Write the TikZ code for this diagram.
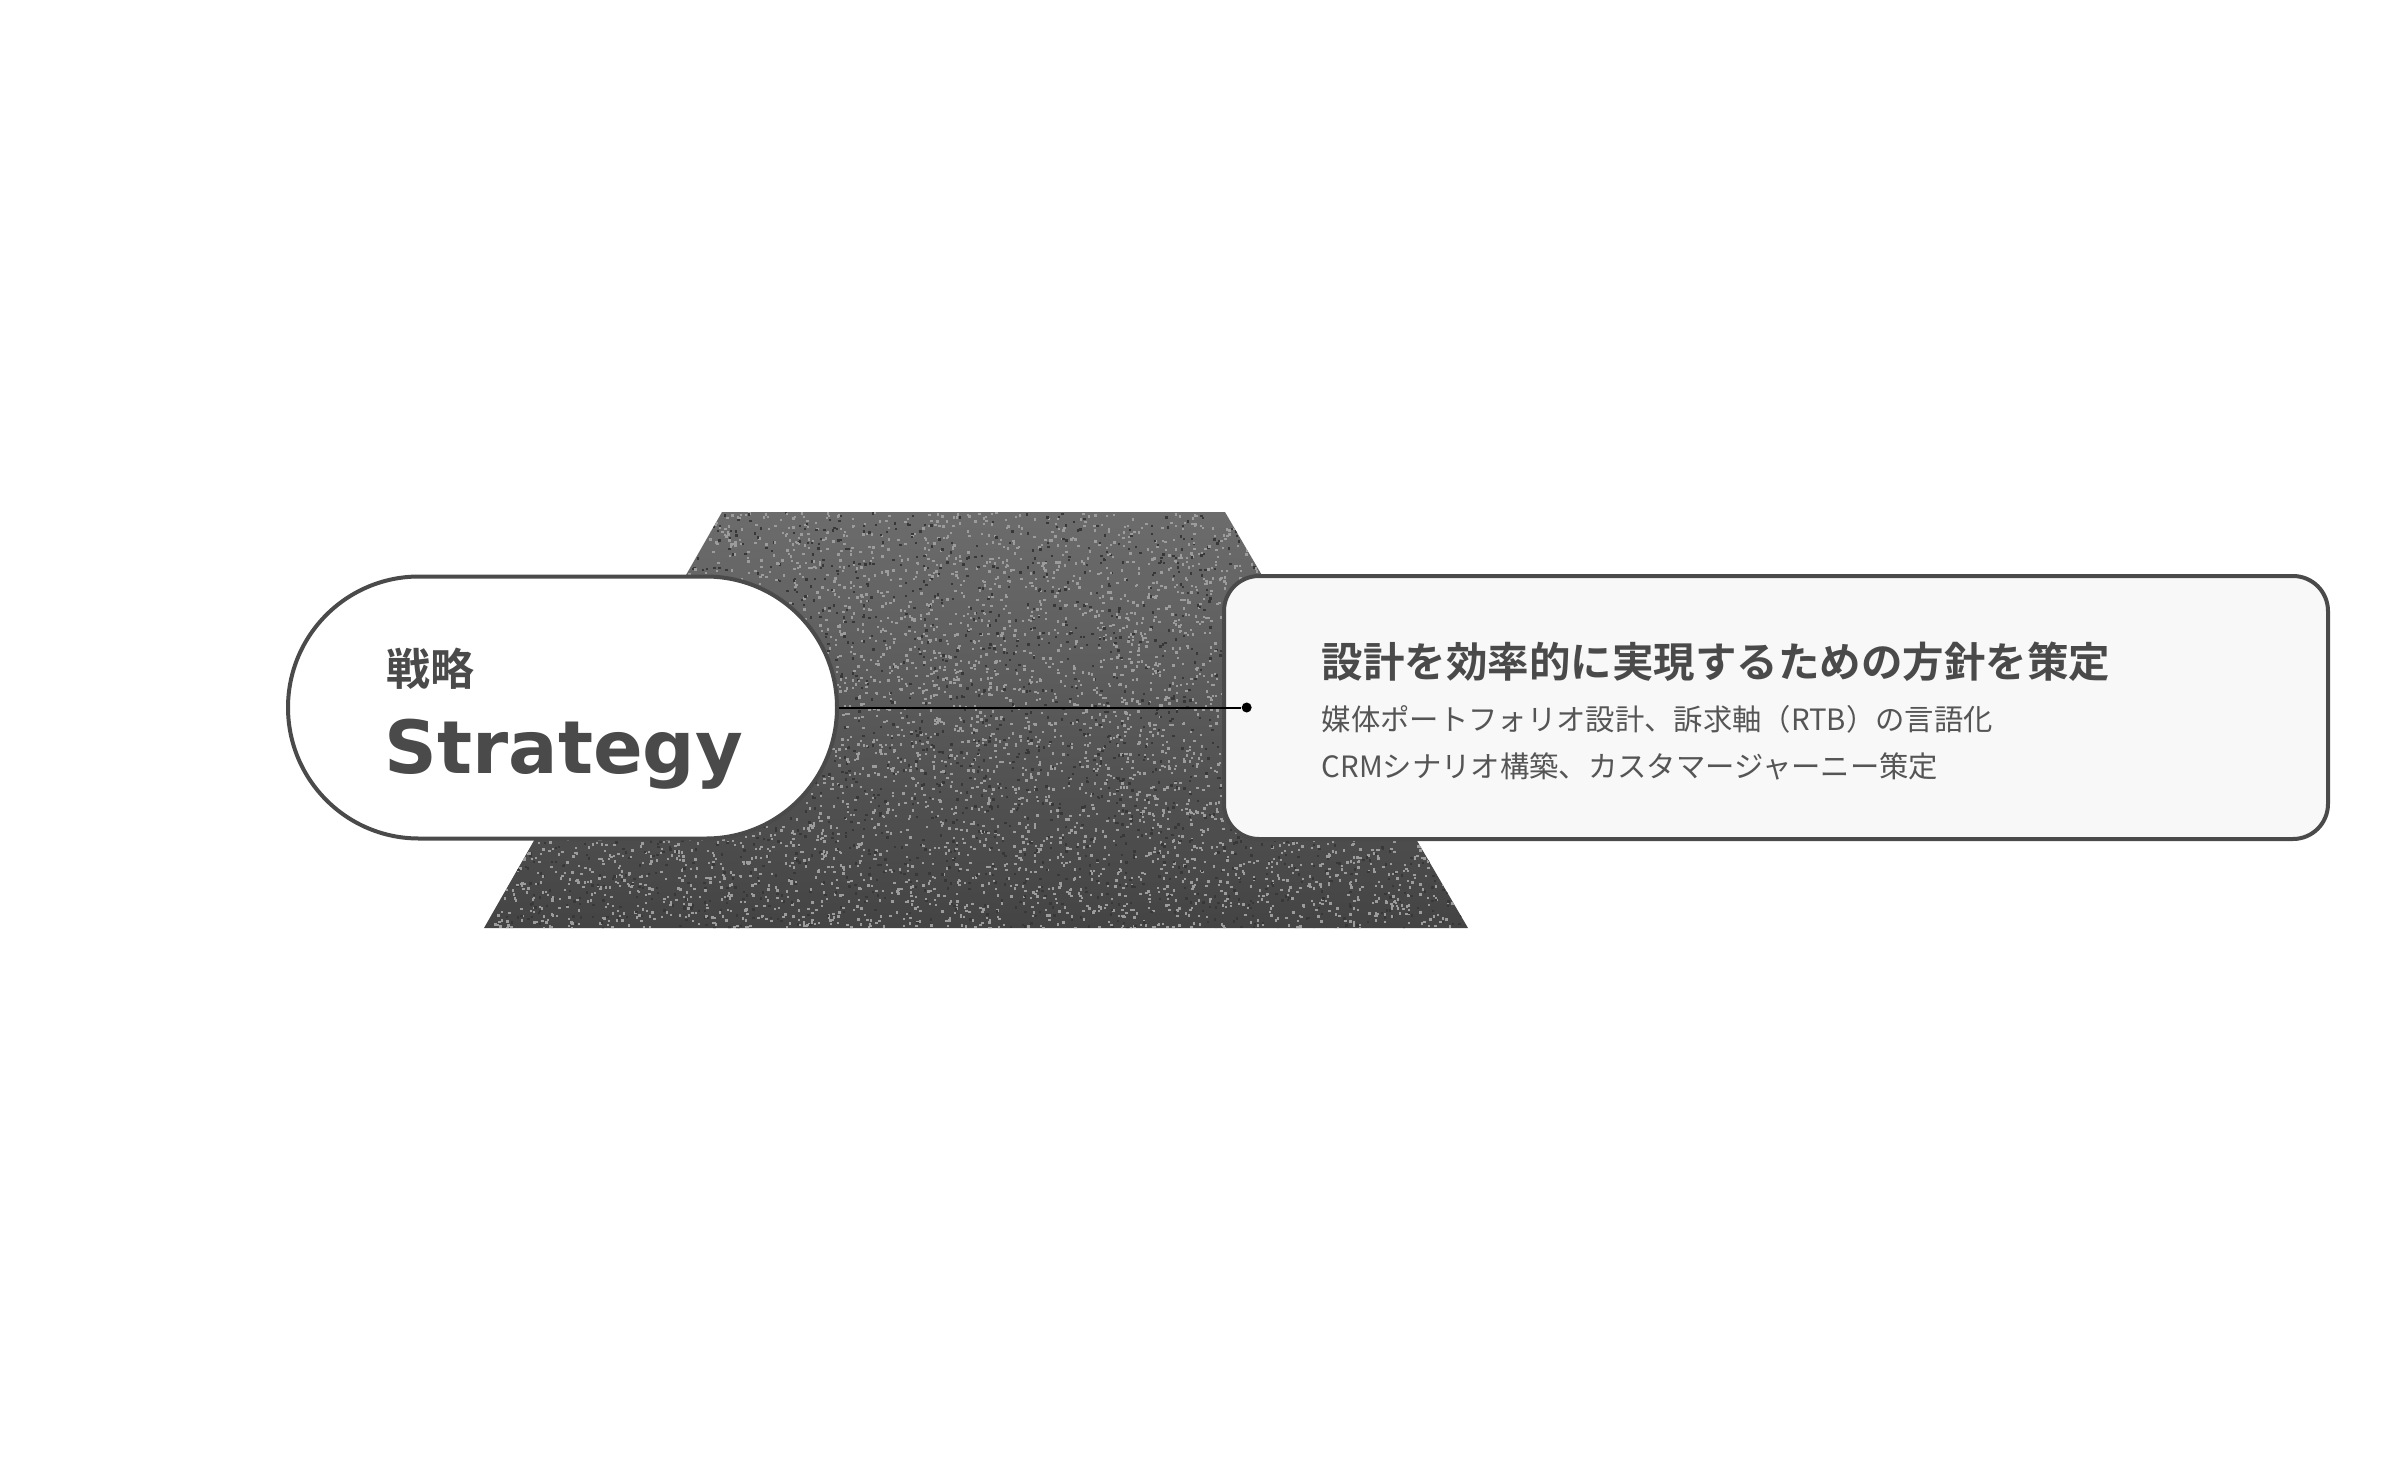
\documentclass[tikz,border=0pt]{standalone}
\usepackage{fontspec}
\setmainfont{Noto Sans CJK JP}[BoldFont={Noto Sans CJK JP Bold}]
\newfontfamily\enbold{DejaVu Sans Bold}
\usetikzlibrary{positioning}

\definecolor{ink}{HTML}{4A4A4A}
\definecolor{softink}{HTML}{555555}
\definecolor{boxfill}{HTML}{F8F8F8}
\definecolor{rocktop}{HTML}{6C6C6C}
\definecolor{rockbot}{HTML}{444444}
\definecolor{speckle}{HTML}{9C9C9C}
\definecolor{grit}{HTML}{383838}

\begin{document}
\begin{tikzpicture}[x=0.3pt,y=-0.3pt]
				\tikzstyle{pill}=[draw=ink, line width=1.2pt, fill=white, rounded corners=39.3pt, minimum width=164.7pt, minimum height=78.6pt]
				\tikzstyle{descbox}=[draw=ink, line width=1.2pt, fill=boxfill, rounded corners=10.5pt, minimum width=331.2pt, minimum height=78.9pt]
				\tikzstyle{pin}=[circle, fill=black, inner sep=0pt, minimum size=3pt]
				\tikzstyle{lbl}=[anchor=west, inner sep=0pt, text=ink]

				\useasboundingbox (0,0) rectangle (2400,1468);

				% background trapezoid with grain
				\shade[top color=rocktop, bottom color=rockbot] (722,512) -- (1225,512) -- (1468,928) -- (484,928) -- cycle;
				\pgfmathsetseed{42}
				\foreach \k in {1,...,5}{
				\begin{scope}
				\clip (722,512) -- (1225,512) -- (1468,928) -- (484,928) -- cycle;
				\foreach \i in {1,...,1200}
				\fill[speckle] (484+rnd*984, 512+rnd*416) rectangle ++(2.4,2.4);
				\foreach \i in {1,...,500}
				\fill[grit] (484+rnd*984, 512+rnd*416) rectangle ++(2.4,2.4);
				\end{scope}
				}

				\node[pill] (strategy) at (562.5,707.5) {};
				\node[descbox] (desc) [right=114.9pt of strategy] {};
				\node[pin] (dot) [right=5.7pt of desc.west] {};

				\node[lbl, font=\bfseries\fontsize{13.2pt}{15pt}\selectfont] (jp) at (386,669) {戦略};
				\node[lbl, anchor=base west, font=\enbold\fontsize{22pt}{24pt}\selectfont] (en) at (384,773) {Strategy};

				\node[lbl, font=\bfseries\fontsize{12.45pt}{14pt}\selectfont] (title) at (1321,662) {設計を効率的に実現するための方針を策定};
				\node[lbl, text=softink, font=\fontsize{8.8pt}{10pt}\selectfont] (line1) at (1321,719) {媒体ポートフォリオ設計、訴求軸（RTB）の言語化};
				\node[lbl, text=softink, font=\fontsize{8.8pt}{10pt}\selectfont] (line2) at (1321,766) {CRMシナリオ構築、カスタマージャーニー策定};

				\draw[line width=0.6pt] (strategy.east) -- (dot);
\end{tikzpicture}
\end{document}
